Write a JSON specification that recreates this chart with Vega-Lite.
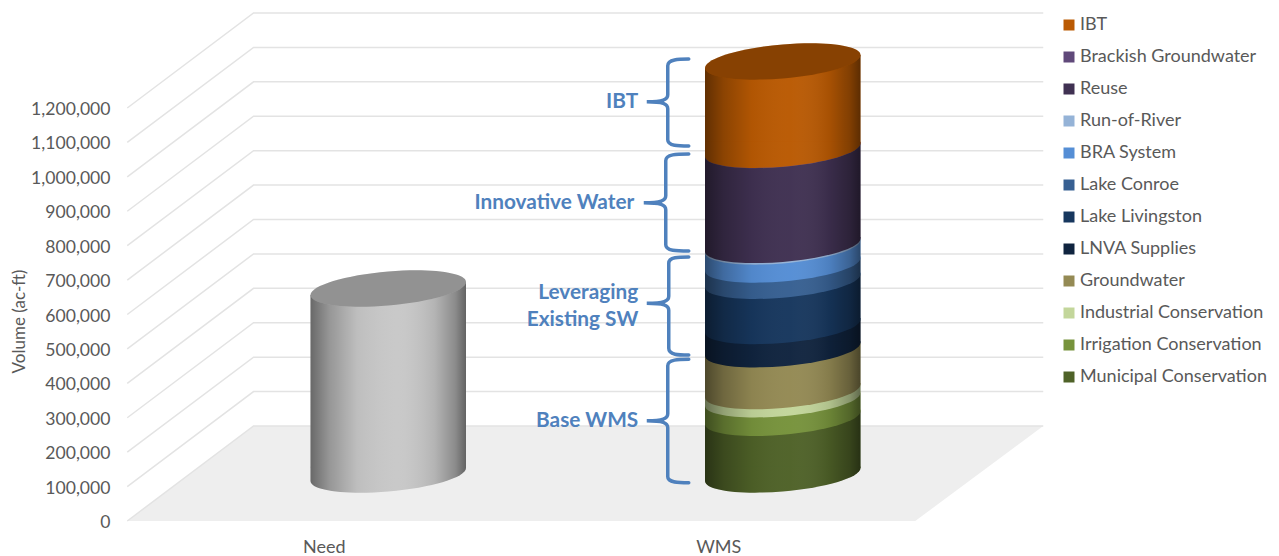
{
"$schema":"https://vega.github.io/schema/vega-lite/v6.json",
"autosize":{"type":"none"},
"padding":{"left":127,"top":108,"right":363,"bottom":35},
"width":789,"height":413,
"background":"white",
"config":{"view":{"stroke":null},"font":"Lato"},
"resolve":{"axis":{"x":"independent","y":"independent"}},
"datasets":{
"supply":[
{"category":"Need","series":"Need","rank":1,"volume":540436},
{"category":"WMS","series":"Municipal Conservation","rank":1,"volume":164600},
{"category":"WMS","series":"Irrigation Conservation","rank":2,"volume":53900},
{"category":"WMS","series":"Industrial Conservation","rank":3,"volume":23900},
{"category":"WMS","series":"Groundwater","rank":4,"volume":121700},
{"category":"WMS","series":"LNVA Supplies","rank":5,"volume":67600},
{"category":"WMS","series":"Lake Livingston","rank":6,"volume":131100},
{"category":"WMS","series":"Lake Conroe","rank":7,"volume":47500},
{"category":"WMS","series":"BRA System","rank":8,"volume":52400},
{"category":"WMS","series":"Run-of-River","rank":9,"volume":4400},
{"category":"WMS","series":"Reuse","rank":10,"volume":275700},
{"category":"WMS","series":"Brackish Groundwater","rank":11,"volume":1000},
{"category":"WMS","series":"IBT","rank":12,"volume":256200}
],
"grid":[{"tick":0},{"tick":100000},{"tick":200000},{"tick":300000},{"tick":400000},{"tick":500000},{"tick":600000},{"tick":700000},{"tick":800000},{"tick":900000},{"tick":1000000},{"tick":1100000},{"tick":1200000}],
"braces":[
{"group":"IBT","mid":1218000,"labelAt":1217000,"label":"IBT"},
{"group":"Innovative Water","mid":924800,"labelAt":924000,"label":"Innovative Water"},
{"group":"Leveraging Existing SW","mid":632500,"labelAt":662500,"label":["Leveraging","Existing SW"]},
{"group":"Base WMS","mid":291400,"labelAt":290600,"label":"Base WMS"}
]
},
"layer":[
{"data":{"name":"grid"},"transform":[{"filter":"datum.tick===0"}],
 "mark":{"type":"point","filled":true,"fill":"#eeeeee","opacity":1,"strokeWidth":0,"shape":"M-197,0 L-70.7,-95 L719,-95 L591,0 Z","size":4},
 "encoding":{
  "x":{"datum":"Need","type":"nominal","scale":{"type":"band","domain":["Need","WMS"],"paddingInner":0,"paddingOuter":0},
   "axis":{"title":null,"domain":false,"ticks":false,"labelAngle":0,"labelFont":"Lato","labelFontSize":18,"labelColor":"#595959","labelPadding":17}},
  "y":{"field":"tick","type":"quantitative","scale":{"domain":[0,1200000],"nice":false},
   "axis":{"title":"Volume (ac-ft)","titleFont":"Lato","titleFontWeight":"normal","titleFontSize":17,"titleColor":"#595959","titleX":-99,"titleY":213,"domain":false,"ticks":false,"grid":false,"values":[0,100000,200000,300000,400000,500000,600000,700000,800000,900000,1000000,1100000,1200000],"format":",.0f","labelFont":"Lato","labelFontSize":17.6,"labelColor":"#595959","labelPadding":17,"labelOffset":1.5}}
 }},
{"data":{"name":"grid"},
 "mark":{"type":"point","filled":false,"color":"#e3e3e3","opacity":1,"strokeWidth":1.5,"shape":"M-197,0 L-70.7,-95 L719,-95","size":4},
 "encoding":{"x":{"datum":"Need","type":"nominal","axis":null},"y":{"field":"tick","type":"quantitative","axis":null}}},
{"data":{"name":"supply"},
 "transform":[{"stack":"volume","groupby":["category"],"sort":[{"field":"rank","order":"ascending"}],"as":["y0","y1"]}],
 "encoding":{
  "x":{"field":"category","type":"nominal","axis":null},
  "color":{"field":"series","type":"nominal","scale":{
    "domain":["IBT","Brackish Groundwater","Reuse","Run-of-River","BRA System","Lake Conroe","Lake Livingston","LNVA Supplies","Groundwater","Industrial Conservation","Irrigation Conservation","Municipal Conservation","Need"],
    "range":["#BA5A03","#60497A","#403152","#95B3D7","#558ED5","#376092","#17375E","#10243F","#948A54","#C3D69B","#77933C","#4F6228","#C8C8C8"]},
   "legend":{"title":null,"orient":"none","legendX":933,"legendY":-92,"padding":0,"values":["IBT","Brackish Groundwater","Reuse","Run-of-River","BRA System","Lake Conroe","Lake Livingston","LNVA Supplies","Groundwater","Industrial Conservation","Irrigation Conservation","Municipal Conservation"],"symbolType":"square","symbolSize":121,"symbolStrokeWidth":0,"symbolOpacity":1,"labelFont":"Lato","labelFontSize":18,"labelColor":"#595959","labelOffset":2,"rowPadding":14,"labelLimit":300}}
 },
 "layer":[
  {"transform":[{"filter":"datum.rank<12 && datum.series!=='Need'"}],
   "mark":{"type":"bar","size":155.5,"xOffset":64,"yOffset":-53,"y2Offset":-53},
   "encoding":{"y":{"field":"y1","type":"quantitative","axis":null},"y2":{"field":"y0"}}},
  {"transform":[{"filter":"datum.rank===12 || datum.series==='Need'"}],
   "mark":{"type":"bar","size":155.5,"xOffset":64,"yOffset":-40,"y2Offset":-53},
   "encoding":{"y":{"field":"y1","type":"quantitative","axis":null},"y2":{"field":"y0"}}},
  {"mark":{"type":"point","filled":true,"opacity":1,"strokeWidth":0,"xOffset":64,"yOffset":-46.5,"size":4,"shape":"M-77.75,-8 L77.75,-8 L77.75,-6.5 C77.75,2.89 42.94,13.41 0,17 C-42.94,20.59 -77.75,15.89 -77.75,6.5 Z"},
   "encoding":{"y":{"field":"y0","type":"quantitative","axis":null}}},
  {"transform":[{"filter":"datum.rank===12 || datum.series==='Need'"}],
   "mark":{"type":"point","filled":true,"opacity":1,"strokeWidth":0,"xOffset":64,"yOffset":-46.5,"size":4,"shape":"M-77.75,6.5 L77.75,-6.5 L77.75,6.5 Z"},
   "encoding":{"y":{"field":"y1","type":"quantitative","axis":null}}}
 ]},
{"data":{"name":"supply"},
 "transform":[{"stack":"volume","groupby":["category"],"sort":[{"field":"rank","order":"ascending"}],"as":["y0","y1"]},{"aggregate":[{"op":"max","field":"y1","as":"total"}],"groupby":["category"]}],
 "encoding":{"x":{"field":"category","type":"nominal","axis":null}},
 "layer":[
  {"mark":{"type":"bar","size":155.5,"xOffset":64,"yOffset":-40,"y2Offset":-53,
    "fill":{"gradient":"linear","x1":0,"y1":0,"x2":1,"y2":0,"stops":[{"offset":0,"color":"rgba(0,0,0,0.48)"},{"offset":0.12,"color":"rgba(0,0,0,0.25)"},{"offset":0.3,"color":"rgba(0,0,0,0.05)"},{"offset":0.55,"color":"rgba(255,255,255,0.02)"},{"offset":0.8,"color":"rgba(0,0,0,0.1)"},{"offset":0.93,"color":"rgba(0,0,0,0.3)"},{"offset":1,"color":"rgba(0,0,0,0.5)"}]}},
   "encoding":{"y":{"field":"total","type":"quantitative","axis":null},"y2":{"datum":0}}},
  {"mark":{"type":"point","filled":true,"opacity":1,"strokeWidth":0,"xOffset":64,"yOffset":-46.5,"size":4,"shape":"M-77.75,-6.5 L77.75,-6.5 C77.75,2.89 42.94,13.41 0,17 C-42.94,20.59 -77.75,15.89 -77.75,6.5 Z",
    "fill":{"gradient":"linear","x1":0,"y1":0,"x2":1,"y2":0,"stops":[{"offset":0,"color":"rgba(0,0,0,0.48)"},{"offset":0.12,"color":"rgba(0,0,0,0.25)"},{"offset":0.3,"color":"rgba(0,0,0,0.05)"},{"offset":0.55,"color":"rgba(255,255,255,0.02)"},{"offset":0.8,"color":"rgba(0,0,0,0.1)"},{"offset":0.93,"color":"rgba(0,0,0,0.3)"},{"offset":1,"color":"rgba(0,0,0,0.5)"}]}},
   "encoding":{"y":{"datum":0,"type":"quantitative","axis":null}}},
  {"mark":{"type":"point","filled":true,"opacity":1,"strokeWidth":0,"xOffset":64,"yOffset":-46.5,"size":4,"shape":"M-77.75,6.5 L77.75,-6.5 L77.75,6.5 Z",
    "fill":{"gradient":"linear","x1":0,"y1":0,"x2":1,"y2":0,"stops":[{"offset":0,"color":"rgba(0,0,0,0.48)"},{"offset":0.12,"color":"rgba(0,0,0,0.25)"},{"offset":0.3,"color":"rgba(0,0,0,0.05)"},{"offset":0.55,"color":"rgba(255,255,255,0.02)"},{"offset":0.8,"color":"rgba(0,0,0,0.1)"},{"offset":0.93,"color":"rgba(0,0,0,0.3)"},{"offset":1,"color":"rgba(0,0,0,0.5)"}]}},
   "encoding":{"y":{"field":"total","type":"quantitative","axis":null}}}
 ]},
{"data":{"name":"supply"},
 "transform":[{"stack":"volume","groupby":["category"],"sort":[{"field":"rank","order":"ascending"}],"as":["y0","y1"]},{"filter":"datum.rank===12 || datum.series==='Need'"}],
 "encoding":{"x":{"field":"category","type":"nominal","axis":null},"y":{"field":"y1","type":"quantitative","axis":null}},
 "layer":[
  {"mark":{"type":"point","filled":true,"opacity":1,"strokeWidth":0,"xOffset":64,"yOffset":-46.5,"size":4,"shape":"M77.75,-6.5 C77.75,2.89 42.94,13.41 0,17 C-42.94,20.59 -77.75,15.89 -77.75,6.5 C-77.75,-2.89 -42.94,-13.41 0,-17 C42.94,-20.59 77.75,-15.89 77.75,-6.5 Z"},
   "encoding":{"color":{"field":"series","type":"nominal"}}},
  {"mark":{"type":"point","filled":true,"fill":"#000000","opacity":0.27,"strokeWidth":0,"xOffset":64,"yOffset":-46.5,"size":4,"shape":"M77.75,-6.5 C77.75,2.89 42.94,13.41 0,17 C-42.94,20.59 -77.75,15.89 -77.75,6.5 C-77.75,-2.89 -42.94,-13.41 0,-17 C42.94,-20.59 77.75,-15.89 77.75,-6.5 Z"}}
 ]},
{"data":{"name":"braces"},
 "mark":{"type":"point","filled":false,"color":"#4F81BD","opacity":1,"strokeWidth":3.5,"strokeCap":"round","size":4},
 "encoding":{
  "x":{"datum":"WMS","type":"nominal","axis":null},
  "y":{"field":"mid","type":"quantitative","axis":null},
  "shape":{"field":"group","type":"nominal","legend":null,"scale":{"domain":["IBT","Innovative Water","Leveraging Existing SW","Base WMS"],"range":[
   "M-30,-42.7 C-40,-42.7 -51,-42.7 -51,-36 L-51,-7 C-51,-2 -56,0 -72,0 C-56,0 -51,2 -51,7 L-51,38 C-51,44.3 -40,44.3 -30,44.3",
   "M-30,-48.7 C-42,-48.7 -53,-48.7 -53,-42 L-53,-7 C-53,-2 -58,0 -75,0 C-58,0 -53,2 -53,7 L-53,42 C-53,48.3 -42,48.3 -30,48.3",
   "M-30,-46.3 C-40,-46.3 -50,-46.3 -50,-40 L-50,-7 C-50,-2 -55,0 -72,0 C-55,0 -50,2 -50,7 L-50,45 C-50,51.7 -40,51.7 -30,51.7",
   "M-30,-61.4 C-40,-61.4 -51,-61.4 -51,-55 L-51,-7 C-51,-2 -56,0 -72,0 C-56,0 -51,2 -51,7 L-51,56 C-51,62 -40,62 -30,62"
  ]}}
 }},
{"data":{"name":"braces"},"transform":[{"filter":"datum.group!=='Innovative Water'"}],
 "mark":{"type":"text","align":"right","baseline":"middle","font":"Lato","fontWeight":"bold","fontSize":20.8,"color":"#4F81BD","xOffset":-80.5,"lineHeight":27},
 "encoding":{"x":{"datum":"WMS","type":"nominal","axis":null},"y":{"field":"labelAt","type":"quantitative","axis":null},"text":{"field":"label"}}},
{"data":{"name":"braces"},"transform":[{"filter":"datum.group==='Innovative Water'"}],
 "mark":{"type":"text","align":"right","baseline":"middle","font":"Lato","fontWeight":"bold","fontSize":20.8,"color":"#4F81BD","xOffset":-84.5},
 "encoding":{"x":{"datum":"WMS","type":"nominal","axis":null},"y":{"field":"labelAt","type":"quantitative","axis":null},"text":{"field":"label"}}}
]
}
